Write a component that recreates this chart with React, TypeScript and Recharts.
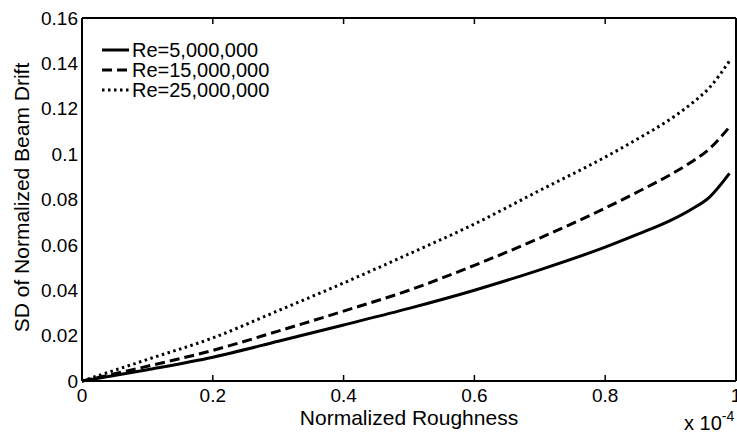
import React from 'react';
import { LineChart, Line, XAxis, YAxis, Legend, Label } from 'recharts';

document.body.style.margin = '0';

// Normalized roughness (x 10^-4) and SD of normalized beam drift
const roughness = [0, 0.1, 0.2, 0.3, 0.4, 0.5, 0.6, 0.7, 0.8, 0.85, 0.9, 0.93, 0.96, 0.99];
const re5M = [0, 0.005, 0.0105, 0.0175, 0.0247, 0.032, 0.04, 0.049, 0.059, 0.0647, 0.0708, 0.0754, 0.0812, 0.0915];
const re15M = [0, 0.0065, 0.0135, 0.022, 0.0308, 0.04, 0.051, 0.063, 0.0762, 0.0834, 0.091, 0.0962, 0.1025, 0.112];
const re25M = [0, 0.0095, 0.019, 0.031, 0.0432, 0.056, 0.0692, 0.084, 0.0987, 0.1068, 0.1155, 0.1218, 0.1295, 0.141];

const seriesNames = ['Re=5,000,000', 'Re=15,000,000', 'Re=25,000,000'];
const xTicks = [0, 0.2, 0.4, 0.6, 0.8, 1];
const yTicks = [0, 0.02, 0.04, 0.06, 0.08, 0.1, 0.12, 0.14, 0.16];

const data = roughness.map((x, i) => ({ x, re5: re5M[i], re15: re15M[i], re25: re25M[i] }));

const FONT = 'Arial, "Liberation Sans", Helvetica, sans-serif';
const dashes: Record<string, string | undefined> = { re5: undefined, re15: '10 5', re25: '2.5 3.5' };
const widths: Record<string, number> = { re5: 3, re15: 3, re25: 3 };
const axisStyle = { stroke: '#000', strokeWidth: 2 };
const tickLineStyle = { stroke: '#000', strokeWidth: 1.5 };
const tickStyle = { fill: '#000', fontSize: 19, fontFamily: FONT };
const noLabel = () => <g />;

const renderLegend = (props: any) => {
  const items = [...(props.payload || [])].sort(
    (a: any, b: any) => seriesNames.indexOf(a.value) - seriesNames.indexOf(b.value)
  );
  return (
    <div style={{ fontFamily: FONT, fontSize: 20, color: '#000' }}>
      {items.map((entry: any) => (
        <div key={entry.value} style={{ display: 'flex', alignItems: 'center', height: 20 }}>
          <svg width={30} height={20} style={{ display: 'block', flex: 'none' }}>
            <line x1={0} y1={10} x2={27} y2={10} stroke="#000" strokeWidth={3}
              strokeDasharray={dashes[entry.dataKey as string]} />
          </svg>
          <span style={{ lineHeight: '20px', whiteSpace: 'nowrap' }}>{entry.value}</span>
        </div>
      ))}
    </div>
  );
};

export default function App() {
  return (
    <div style={{ width: 737, height: 433, background: '#fff' }}>
      <LineChart width={737} height={433} data={data} margin={{ top: 18, right: 1, bottom: 0, left: 0 }}>
        <XAxis dataKey="x" type="number" domain={[0, 1]} ticks={xTicks} interval={0}
          tickLine={false} tickSize={0} tickMargin={8} height={52} axisLine={axisStyle} tick={tickStyle}>
          <Label value="Normalized Roughness" position="insideBottom" offset={8}
            fontSize={21} fill="#000" fontFamily={FONT} />
          <Label position="insideBottomRight" content={({ viewBox }: any) => (
            <text x={viewBox.x + viewBox.width - 52} y={viewBox.y + viewBox.height - 3}
              fontSize={20} fontFamily={FONT} fill="#000">
              x 10<tspan dy={-9} fontSize={14}>-4</tspan>
            </text>
          )} />
        </XAxis>
        <XAxis xAxisId="bm" dataKey="x" type="number" domain={[0, 1]} ticks={xTicks} interval={0}
          mirror height={10} tick={noLabel} tickSize={6} axisLine={false} tickLine={tickLineStyle} />
        <XAxis xAxisId="top" orientation="top" dataKey="x" type="number" domain={[0, 1]} ticks={xTicks} interval={0}
          mirror height={10} tick={noLabel} tickSize={6} axisLine={axisStyle} tickLine={tickLineStyle} />
        <YAxis type="number" domain={[0, 0.16]} ticks={yTicks} interval={0} width={82}
          tickLine={false} tickSize={0} tickMargin={4} axisLine={axisStyle} tick={tickStyle}>
          <Label position="insideLeft" content={({ viewBox }: any) => {
            const cx = viewBox.x + 21;
            const cy = viewBox.y + viewBox.height / 2 - 2;
            return (
              <text x={cx} y={cy} transform={`rotate(-90, ${cx}, ${cy})`} textAnchor="middle"
                dominantBaseline="central" fontSize={21} fontFamily={FONT} fill="#000">
                SD of Normalized Beam Drift
              </text>
            );
          }} />
        </YAxis>
        <YAxis yAxisId="lm" type="number" domain={[0, 0.16]} ticks={yTicks} interval={0}
          mirror width={10} tick={noLabel} tickSize={6} axisLine={false} tickLine={tickLineStyle} />
        <YAxis yAxisId="r" orientation="right" type="number" domain={[0, 0.16]} ticks={yTicks} interval={0}
          mirror width={10} tick={noLabel} tickSize={6} axisLine={axisStyle} tickLine={tickLineStyle} />
        <Legend layout="vertical" align="center" verticalAlign="middle" content={renderLegend}
          wrapperStyle={{ position: 'absolute', left: 102, top: 40, width: 'auto', height: 'auto' }} />
        <Line dataKey="re5" name={seriesNames[0]} type="monotone" stroke="#000" strokeWidth={widths.re5}
          dot={false} activeDot={false} isAnimationActive={false} />
        <Line dataKey="re15" name={seriesNames[1]} type="monotone" stroke="#000" strokeWidth={widths.re15}
          strokeDasharray={dashes.re15} dot={false} activeDot={false} isAnimationActive={false} />
        <Line dataKey="re25" name={seriesNames[2]} type="monotone" stroke="#000" strokeWidth={widths.re25}
          strokeDasharray={dashes.re25} dot={false} activeDot={false} isAnimationActive={false} />
      </LineChart>
    </div>
  );
}
